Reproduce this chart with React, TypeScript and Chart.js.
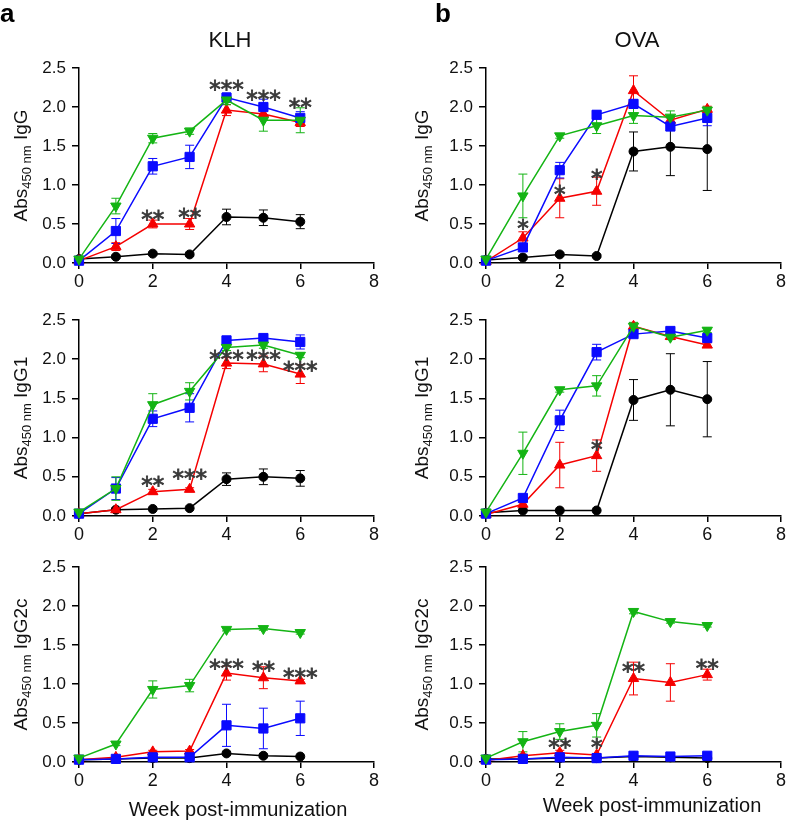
import React, { useEffect, useRef } from 'react';
import { Chart, registerables } from 'chart.js';
Chart.register(...registerables);

const FONT = "'Liberation Sans', Arial, Helvetica, sans-serif";

// ---------- data ----------
const weeks = [0, 1, 2, 3, 4, 5, 6];
const xTicks = [0, 2, 4, 6, 8];
const yTicks = [0, 0.5, 1.0, 1.5, 2.0, 2.5];

// Panel a – KLH IgG
const klhIgG_circle = [0.05, 0.08, 0.12, 0.11, 0.59, 0.58, 0.53];
const klhIgG_circleErr = [0.01, 0.02, 0.02, 0.02, 0.1, 0.1, 0.09];
const klhIgG_square = [0.03, 0.41, 1.24, 1.36, 2.12, 2.0, 1.86];
const klhIgG_squareErr = [0.01, 0.16, 0.1, 0.15, 0.06, 0.1, 0.08];
const klhIgG_tri = [0.03, 0.21, 0.5, 0.5, 1.96, 1.91, 1.8];
const klhIgG_triErr = [0.01, 0.05, 0.05, 0.07, 0.07, 0.06, 0.05];
const klhIgG_inv = [0.05, 0.73, 1.6, 1.69, 2.09, 1.83, 1.83];
const klhIgG_invErr = [0.01, 0.1, 0.06, 0.04, 0.06, 0.14, 0.16];
const klhIgG_stars = ['', '', '**', '**', '***', '***', '**'];
const klhIgG_starY = [0, 0, 0.63, 0.65, 2.3, 2.17, 2.06];

// Panel b – OVA IgG
const ovaIgG_circle = [0.04, 0.07, 0.11, 0.09, 1.43, 1.49, 1.46];
const ovaIgG_circleErr = [0.01, 0.02, 0.02, 0.02, 0.25, 0.37, 0.53];
const ovaIgG_square = [0.03, 0.2, 1.19, 1.9, 2.04, 1.75, 1.86];
const ovaIgG_squareErr = [0.01, 0.03, 0.1, 0.05, 0.05, 0.05, 0.1];
const ovaIgG_tri = [0.02, 0.32, 0.83, 0.92, 2.21, 1.83, 1.97];
const ovaIgG_triErr = [0.01, 0.08, 0.25, 0.18, 0.19, 0.04, 0.04];
const ovaIgG_inv = [0.05, 0.86, 1.63, 1.76, 1.89, 1.87, 1.96];
const ovaIgG_invErr = [0.01, 0.28, 0.03, 0.1, 0.1, 0.08, 0.04];
const ovaIgG_stars = ['', '*', '*', '*', '', '', ''];
const ovaIgG_starY = [0, 0.51, 0.95, 1.15, 0, 0, 0];

// Panel a – KLH IgG1
const klhIgG1_circle = [0.03, 0.08, 0.09, 0.1, 0.47, 0.5, 0.48];
const klhIgG1_circleErr = [0.01, 0.02, 0.01, 0.01, 0.08, 0.1, 0.1];
const klhIgG1_square = [0.03, 0.35, 1.24, 1.38, 2.24, 2.27, 2.22];
const klhIgG1_squareErr = [0.01, 0.14, 0.1, 0.18, 0.04, 0.03, 0.09];
const klhIgG1_tri = [0.03, 0.08, 0.31, 0.34, 1.95, 1.94, 1.81];
const klhIgG1_triErr = [0.01, 0.02, 0.03, 0.02, 0.07, 0.1, 0.12];
const klhIgG1_inv = [0.05, 0.35, 1.42, 1.59, 2.15, 2.18, 2.05];
const klhIgG1_invErr = [0.01, 0.15, 0.14, 0.11, 0.04, 0.04, 0.03];
const klhIgG1_stars = ['', '', '**', '***', '***', '***', '***'];
const klhIgG1_starY = [0, 0, 0.46, 0.55, 2.07, 2.07, 1.93];

// Panel b – OVA IgG1
const ovaIgG1_circle = [0.04, 0.07, 0.07, 0.07, 1.48, 1.61, 1.49];
const ovaIgG1_circleErr = [0.01, 0.01, 0.01, 0.01, 0.26, 0.46, 0.48];
const ovaIgG1_square = [0.03, 0.23, 1.22, 2.09, 2.32, 2.36, 2.27];
const ovaIgG1_squareErr = [0.01, 0.04, 0.13, 0.1, 0.03, 0.03, 0.05];
const ovaIgG1_tri = [0.02, 0.15, 0.65, 0.77, 2.42, 2.29, 2.18];
const ovaIgG1_triErr = [0.01, 0.03, 0.29, 0.2, 0.04, 0.03, 0.03];
const ovaIgG1_inv = [0.05, 0.8, 1.61, 1.66, 2.42, 2.28, 2.37];
const ovaIgG1_invErr = [0.01, 0.27, 0.03, 0.13, 0.05, 0.03, 0.03];
const ovaIgG1_stars = ['', '', '', '*', '', '', ''];
const ovaIgG1_starY = [0, 0, 0, 0.92, 0, 0, 0];

// Panel a – KLH IgG2c
const klhIgG2c_circle = [0.03, 0.04, 0.05, 0.05, 0.11, 0.08, 0.07];
const klhIgG2c_circleErr = [0.01, 0.01, 0.01, 0.01, 0.02, 0.02, 0.01];
const klhIgG2c_square = [0.03, 0.04, 0.06, 0.06, 0.47, 0.43, 0.56];
const klhIgG2c_squareErr = [0.01, 0.02, 0.02, 0.02, 0.27, 0.26, 0.22];
const klhIgG2c_tri = [0.03, 0.06, 0.13, 0.14, 1.14, 1.08, 1.04];
const klhIgG2c_triErr = [0.01, 0.01, 0.02, 0.02, 0.09, 0.14, 0.02];
const klhIgG2c_inv = [0.05, 0.23, 0.93, 0.98, 1.7, 1.71, 1.66];
const klhIgG2c_invErr = [0.01, 0.02, 0.11, 0.08, 0.02, 0.02, 0.02];
const klhIgG2c_stars = ['', '', '', '', '***', '**', '***'];
const klhIgG2c_starY = [0, 0, 0, 0, 1.27, 1.24, 1.16];

// Panel b – OVA IgG2c
const ovaIgG2c_circle = [0.04, 0.04, 0.05, 0.05, 0.07, 0.06, 0.05];
const ovaIgG2c_circleErr = [0.01, 0.01, 0.01, 0.01, 0.01, 0.01, 0.01];
const ovaIgG2c_square = [0.03, 0.04, 0.06, 0.05, 0.08, 0.07, 0.08];
const ovaIgG2c_squareErr = [0.01, 0.01, 0.01, 0.01, 0.02, 0.01, 0.01];
const ovaIgG2c_tri = [0.02, 0.08, 0.12, 0.09, 1.07, 1.02, 1.12];
const ovaIgG2c_triErr = [0.01, 0.02, 0.03, 0.02, 0.21, 0.24, 0.07];
const ovaIgG2c_inv = [0.05, 0.26, 0.39, 0.47, 1.93, 1.8, 1.75];
const ovaIgG2c_invErr = [0.01, 0.13, 0.1, 0.15, 0.03, 0.02, 0.02];
const ovaIgG2c_stars = ['', '', '**', '*', '**', '', '**'];
const ovaIgG2c_starY = [0, 0, 0.26, 0.26, 1.23, 0, 1.27];

// ---------- styles ----------
const BLACK = '#000000';
const BLUE = '#0a0aff';
const RED = '#f50000';
const GREEN = '#14b414';

type Series = { vals: number[]; errs: number[]; color: string; style: string; radius: number; rotation: number };

function series(circle: number[], circleErr: number[], square: number[], squareErr: number[], tri: number[], triErr: number[], inv: number[], invErr: number[]): Series[] {
  // index 0 drawn on top
  return [
    { vals: inv, errs: invErr, color: GREEN, style: 'triangle', radius: 6, rotation: 180 },
    { vals: square, errs: squareErr, color: BLUE, style: 'rect', radius: 6.5, rotation: 0 },
    { vals: tri, errs: triErr, color: RED, style: 'triangle', radius: 6, rotation: 0 },
    { vals: circle, errs: circleErr, color: BLACK, style: 'circle', radius: 4.5, rotation: 0 },
  ];
}

type PanelCfg = {
  left: number; top: number; width: number; height: number;
  padTop: number; padRight: number; yW: number; xH: number;
  yTitleX: number; ySub: string;
  letter?: string; letterX?: number; title?: string; titleX?: number;
  xTitle?: boolean; xTitleX?: number; xTitleY?: number;
  data: Series[]; stars: string[]; starY: number[];
};

const colA = { left: 0, width: 393, padRight: 19, yW: 79, yTitleX: 27 };
const colB = { left: 393, width: 394, padRight: 6, yW: 93, yTitleX: 35 };
const row1 = { top: 0, height: 295, padTop: 68, xH: 32 };
const row2 = { top: 295, height: 250, padTop: 25, xH: 29 };
const row3 = { top: 545, height: 278, padTop: 22, xH: 61 };

const panels: PanelCfg[] = [
  { ...colA, ...row1, ySub: 'IgG', letter: 'a', letterX: 0, title: 'KLH', titleX: 230,
    data: series(klhIgG_circle, klhIgG_circleErr, klhIgG_square, klhIgG_squareErr, klhIgG_tri, klhIgG_triErr, klhIgG_inv, klhIgG_invErr),
    stars: klhIgG_stars, starY: klhIgG_starY },
  { ...colB, ...row1, ySub: 'IgG', letter: 'b', letterX: 42, title: 'OVA', titleX: 244,
    data: series(ovaIgG_circle, ovaIgG_circleErr, ovaIgG_square, ovaIgG_squareErr, ovaIgG_tri, ovaIgG_triErr, ovaIgG_inv, ovaIgG_invErr),
    stars: ovaIgG_stars, starY: ovaIgG_starY },
  { ...colA, ...row2, ySub: 'IgG1',
    data: series(klhIgG1_circle, klhIgG1_circleErr, klhIgG1_square, klhIgG1_squareErr, klhIgG1_tri, klhIgG1_triErr, klhIgG1_inv, klhIgG1_invErr),
    stars: klhIgG1_stars, starY: klhIgG1_starY },
  { ...colB, ...row2, ySub: 'IgG1',
    data: series(ovaIgG1_circle, ovaIgG1_circleErr, ovaIgG1_square, ovaIgG1_squareErr, ovaIgG1_tri, ovaIgG1_triErr, ovaIgG1_inv, ovaIgG1_invErr),
    stars: ovaIgG1_stars, starY: ovaIgG1_starY },
  { ...colA, ...row3, ySub: 'IgG2c', xTitle: true, xTitleX: 238, xTitleY: 271,
    data: series(klhIgG2c_circle, klhIgG2c_circleErr, klhIgG2c_square, klhIgG2c_squareErr, klhIgG2c_tri, klhIgG2c_triErr, klhIgG2c_inv, klhIgG2c_invErr),
    stars: klhIgG2c_stars, starY: klhIgG2c_starY },
  { ...colB, ...row3, ySub: 'IgG2c', xTitle: true, xTitleX: 259, xTitleY: 267,
    data: series(ovaIgG2c_circle, ovaIgG2c_circleErr, ovaIgG2c_square, ovaIgG2c_squareErr, ovaIgG2c_tri, ovaIgG2c_triErr, ovaIgG2c_inv, ovaIgG2c_invErr),
    stars: ovaIgG2c_stars, starY: ovaIgG2c_starY },
];

function Panel({ cfg }: { cfg: PanelCfg }) {
  const ref = useRef<HTMLCanvasElement | null>(null);
  useEffect(() => {
    if (!ref.current) return;
    const decor = {
      id: 'decor',
      beforeDatasetsDraw(chart: any) {
        const ctx = chart.ctx;
        const xs = chart.scales.x;
        const ys = chart.scales.y;
        ctx.save();
        for (let d = cfg.data.length - 1; d >= 0; d--) {
          const s = cfg.data[d];
          ctx.strokeStyle = s.color;
          ctx.lineWidth = 1;
          weeks.forEach((w, i) => {
            const e = s.errs[i];
            if (!e || e < 0.015) return;
            const px = xs.getPixelForValue(w);
            const y1 = ys.getPixelForValue(s.vals[i] + e);
            const y2 = ys.getPixelForValue(s.vals[i] - e);
            ctx.beginPath();
            ctx.moveTo(px, y1); ctx.lineTo(px, y2);
            ctx.moveTo(px - 4.5, y1); ctx.lineTo(px + 4.5, y1);
            ctx.moveTo(px - 4.5, y2); ctx.lineTo(px + 4.5, y2);
            ctx.stroke();
          });
        }
        ctx.restore();
      },
      afterDraw(chart: any) {
        const ctx = chart.ctx;
        const xs = chart.scales.x;
        const ys = chart.scales.y;
        const area = chart.chartArea;
        ctx.save();
        // stars
        ctx.fillStyle = '#383838';
        ctx.strokeStyle = '#383838';
        ctx.lineWidth = 0.8;
        ctx.font = "23px 'DejaVu Sans', sans-serif";
        ctx.textAlign = 'center';
        ctx.textBaseline = 'alphabetic';
        weeks.forEach((w, i) => {
          const t = cfg.stars[i];
          if (!t) return;
          const px = xs.getPixelForValue(w);
          const py = ys.getPixelForValue(cfg.starY[i]) + 13;
          ctx.fillText(t, px, py);
          ctx.strokeText(t, px, py);
        });
        // y title
        ctx.fillStyle = '#111111';
        const cy = (area.top + area.bottom) / 2;
        ctx.translate(cfg.yTitleX, cy);
        ctx.rotate(-Math.PI / 2);
        ctx.textAlign = 'left';
        const big = `19px ${FONT}`;
        const small = `13px ${FONT}`;
        ctx.font = big;
        const w1 = ctx.measureText('Abs').width;
        const w3 = ctx.measureText(' ' + cfg.ySub).width;
        ctx.font = small;
        const w2 = ctx.measureText('450 nm').width;
        const x0 = -(w1 + w2 + w3) / 2;
        ctx.font = big;
        ctx.fillText('Abs', x0, 0);
        ctx.font = small;
        ctx.fillText('450 nm', x0 + w1, 4);
        ctx.font = big;
        ctx.fillText(' ' + cfg.ySub, x0 + w1 + w2, 0);
        ctx.setTransform(1, 0, 0, 1, 0, 0);
        // letter and title
        if (cfg.letter) {
          ctx.font = `bold 26px ${FONT}`;
          ctx.textAlign = 'left';
          ctx.fillStyle = '#000000';
          ctx.fillText(cfg.letter, cfg.letterX || 0, 22);
        }
        if (cfg.title) {
          ctx.font = `22px ${FONT}`;
          ctx.textAlign = 'center';
          ctx.fillStyle = '#111111';
          ctx.fillText(cfg.title, cfg.titleX || 0, 47);
        }
        if (cfg.xTitle) {
          ctx.font = `20px ${FONT}`;
          ctx.textAlign = 'center';
          ctx.fillStyle = '#111111';
          ctx.fillText('Week post-immunization', cfg.xTitleX || 0, cfg.xTitleY || 0);
        }
        ctx.restore();
      },
    };

    const chart = new Chart(ref.current, {
      type: 'line',
      data: {
        datasets: cfg.data.map((s) => ({
          data: weeks.map((w, i) => ({ x: w, y: s.vals[i] })),
          borderColor: s.color,
          backgroundColor: s.color,
          pointBackgroundColor: s.color,
          pointBorderColor: s.color,
          pointBorderWidth: 1,
          pointStyle: s.style as any,
          pointRadius: s.radius,
          pointRotation: s.rotation,
          borderWidth: 1.5,
          tension: 0,
          clip: false as any,
        })),
      },
      options: {
        responsive: false,
        animation: false,
        devicePixelRatio: 1,
        layout: { autoPadding: false, padding: { left: 0, right: cfg.padRight, top: cfg.padTop, bottom: 0 } },
        plugins: { legend: { display: false }, tooltip: { enabled: false }, title: { display: false } },
        scales: {
          x: {
            type: 'linear',
            min: 0,
            max: 8,
            afterBuildTicks: (s: any) => { s.ticks = xTicks.map((v) => ({ value: v })); },
            afterFit: (s: any) => { s.height = cfg.xH; s.paddingLeft = 0; s.paddingRight = 0; },
            ticks: { font: { size: 18, family: FONT }, color: '#111111', padding: 2, maxRotation: 0, autoSkip: false, callback: (v: any) => String(v) },
            grid: { drawOnChartArea: false, drawTicks: true, tickLength: 6, color: '#000000', lineWidth: 1.5 },
            border: { display: true, color: '#000000', width: 1.5 },
          },
          y: {
            type: 'linear',
            min: 0,
            max: 2.5,
            afterBuildTicks: (s: any) => { s.ticks = yTicks.map((v) => ({ value: v })); },
            afterFit: (s: any) => { s.width = cfg.yW; s.paddingTop = 0; s.paddingBottom = 0; },
            ticks: { font: { size: 17, family: FONT }, color: '#111111', padding: 6, autoSkip: false, callback: (v: any) => Number(v).toFixed(1) },
            grid: { drawOnChartArea: false, drawTicks: true, tickLength: 7, color: '#000000', lineWidth: 1.5 },
            border: { display: true, color: '#000000', width: 1.5 },
          },
        },
      } as any,
      plugins: [decor],
    });
    return () => chart.destroy();
  }, [cfg]);

  return (
    <canvas
      ref={ref}
      width={cfg.width}
      height={cfg.height}
      style={{ position: 'absolute', left: cfg.left, top: cfg.top, width: cfg.width, height: cfg.height }}
    />
  );
}

export default function App() {
  return (
    <div style={{ position: 'absolute', left: 0, top: 0, width: 787, height: 823, background: '#ffffff', overflow: 'hidden' }}>
      {panels.map((p, i) => (
        <Panel key={i} cfg={p} />
      ))}
    </div>
  );
}
